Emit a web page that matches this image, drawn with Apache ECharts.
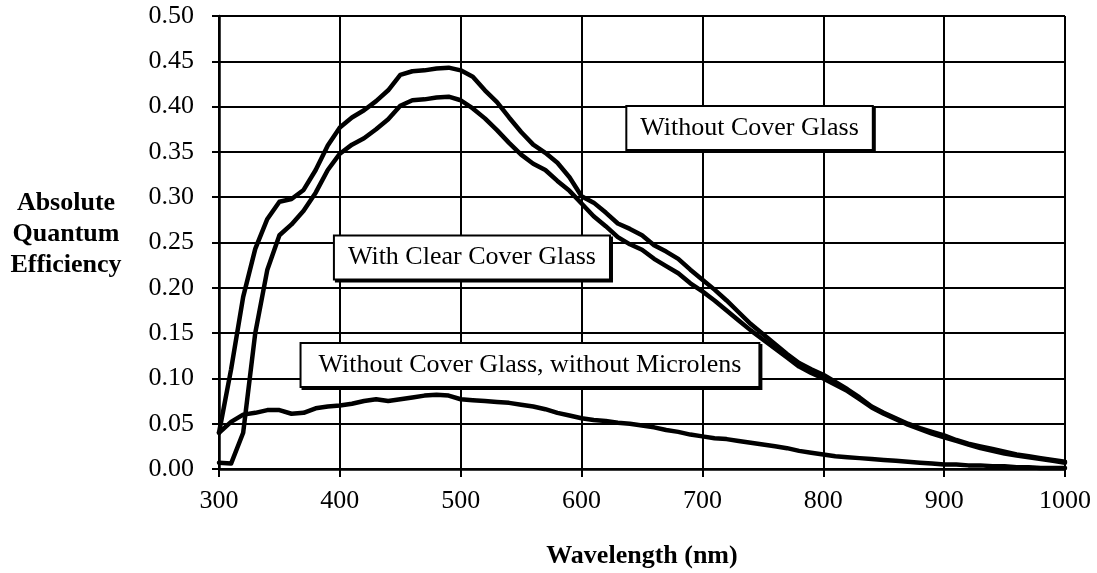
<!DOCTYPE html>
<html>
<head>
<meta charset="utf-8">
<style>
html,body{margin:0;padding:0;background:#fff;}
#chart{width:1097px;height:573px;}
</style>
<script src="https://cdn.jsdelivr.net/npm/echarts@6/dist/echarts.min.js"></script>
</head>
<body>
<div id="chart"></div>
<script>
var wavelengths = [300,310,320,330,340,350,360,370,380,390,400,410,420,430,440,450,460,470,480,490,500,510,520,530,540,550,560,570,580,590,600,610,620,630,640,650,660,670,680,690,700,710,720,730,740,750,760,770,780,790,800,810,820,830,840,850,860,870,880,890,900,910,920,930,940,950,960,970,980,990,1000];
var withoutCoverGlass = [0.040,0.110,0.190,0.243,0.276,0.295,0.298,0.308,0.330,0.357,0.377,0.388,0.396,0.406,0.418,0.435,0.439,0.440,0.442,0.443,0.440,0.433,0.418,0.405,0.388,0.372,0.358,0.349,0.338,0.322,0.301,0.294,0.283,0.271,0.265,0.258,0.247,0.240,0.232,0.220,0.209,0.198,0.186,0.173,0.160,0.149,0.138,0.127,0.117,0.110,0.104,0.096,0.088,0.079,0.069,0.062,0.056,0.050,0.045,0.041,0.037,0.032,0.028,0.025,0.022,0.019,0.016,0.014,0.012,0.010,0.008];
var withClearCoverGlass = [0.007,0.006,0.040,0.150,0.220,0.258,0.270,0.285,0.305,0.330,0.348,0.358,0.365,0.375,0.386,0.401,0.407,0.408,0.410,0.411,0.407,0.398,0.387,0.374,0.360,0.347,0.337,0.330,0.318,0.307,0.293,0.279,0.268,0.256,0.248,0.242,0.232,0.224,0.216,0.205,0.196,0.186,0.175,0.164,0.153,0.143,0.133,0.123,0.113,0.106,0.100,0.093,0.086,0.077,0.068,0.061,0.055,0.049,0.044,0.039,0.035,0.031,0.027,0.023,0.020,0.017,0.015,0.013,0.011,0.009,0.007];
var withoutMicrolens = [0.040,0.052,0.060,0.062,0.065,0.065,0.061,0.062,0.067,0.069,0.070,0.072,0.075,0.077,0.075,0.077,0.079,0.081,0.082,0.081,0.077,0.076,0.075,0.074,0.073,0.071,0.069,0.066,0.062,0.059,0.056,0.054,0.053,0.051,0.050,0.048,0.046,0.043,0.041,0.038,0.036,0.034,0.033,0.031,0.029,0.027,0.025,0.023,0.020,0.018,0.016,0.014,0.013,0.012,0.011,0.010,0.009,0.008,0.007,0.006,0.005,0.005,0.004,0.004,0.003,0.003,0.002,0.002,0.001,0.001,0.001];
var seriesNames = ['Without Cover Glass','With Clear Cover Glass','Without Cover Glass, without Microlens'];
var xTitle = 'Wavelength (nm)';
var yTitle = 'Absolute\nQuantum\nEfficiency';

function pairs(vals){ return wavelengths.map(function(w,i){ return [w, vals[i]]; }); }

var FONT = "'Liberation Serif','Times New Roman',serif";
function boxLabel(text, pad){
  return {
    show: true, position: 'inside', formatter: text,
    color: '#000', fontFamily: FONT, fontSize: 26, lineHeight: 30,
    backgroundColor: '#fff', borderColor: '#000', borderWidth: 2,
    padding: pad, shadowColor: '#000', shadowOffsetX: 2, shadowOffsetY: 2, shadowBlur: 0
  };
}
function makeSeries(name, vals, markCoord, pad){
  return {
    name: name, type: 'line', data: pairs(vals), showSymbol: false, symbol: 'none',
    smooth: false, animation: false,
    lineStyle: { color: '#000', width: 4.5, join: 'round', cap: 'round' },
    markPoint: {
      symbol: 'rect', symbolSize: 1, itemStyle: { color: 'rgba(0,0,0,0)' },
      silent: true, animation: false, z: 10,
      data: [{ coord: markCoord, label: boxLabel(name, pad) }]
    }
  };
}

var chart = echarts.init(document.getElementById('chart'), null, {renderer: 'canvas'});
chart.setOption({
  backgroundColor: '#fff',
  animation: false,
  grid: { left: 219, right: 32, top: 16, bottom: 104, outerBoundsMode: 'none', containLabel: false },
  xAxis: {
    type: 'value', min: 300, max: 1000, interval: 100,
    name: xTitle, nameLocation: 'middle', nameGap: 74,
    nameTextStyle: { fontFamily: FONT, fontSize: 26, fontWeight: 'bold', color: '#000' },
    axisLine: { show: true, onZero: false, lineStyle: { color: '#000', width: 2.5 } },
    axisTick: { show: true, inside: false, length: 8, lineStyle: { color: '#000', width: 2 } },
    axisLabel: { margin: 19, fontFamily: FONT, fontSize: 26, color: '#000', formatter: function(v){ return String(v); }, hideOverlap: false, showMinLabel: true, showMaxLabel: true },
    splitLine: { show: true, lineStyle: { color: '#000', width: 2 } }
  },
  yAxis: {
    type: 'value', min: 0, max: 0.5, interval: 0.05,
    axisLine: { show: true, onZero: false, lineStyle: { color: '#000', width: 2.5 } },
    axisTick: { show: true, inside: false, length: 7, lineStyle: { color: '#000', width: 2 } },
    axisLabel: { margin: 25, fontFamily: FONT, fontSize: 26, color: '#000', formatter: function(v){ return v.toFixed(2); }, hideOverlap: false, showMinLabel: true, showMaxLabel: true },
    splitLine: { show: true, lineStyle: { color: '#000', width: 2 } }
  },
  graphic: [{
    type: 'text', x: 66, y: 234, z: 20,
    style: { text: yTitle, textAlign: 'center', textVerticalAlign: 'middle', font: "bold 26px " + FONT, lineHeight: 31, fill: '#000' }
  }],
  series: [
    makeSeries(seriesNames[0], withoutCoverGlass, [739, 0.3764], [6,13]),
    makeSeries(seriesNames[1], withClearCoverGlass, [509.3, 0.2334], [6,13]),
    makeSeries(seriesNames[2], withoutMicrolens, [557.3, 0.1148], [6,17])
  ]
});
</script>
</body>
</html>
